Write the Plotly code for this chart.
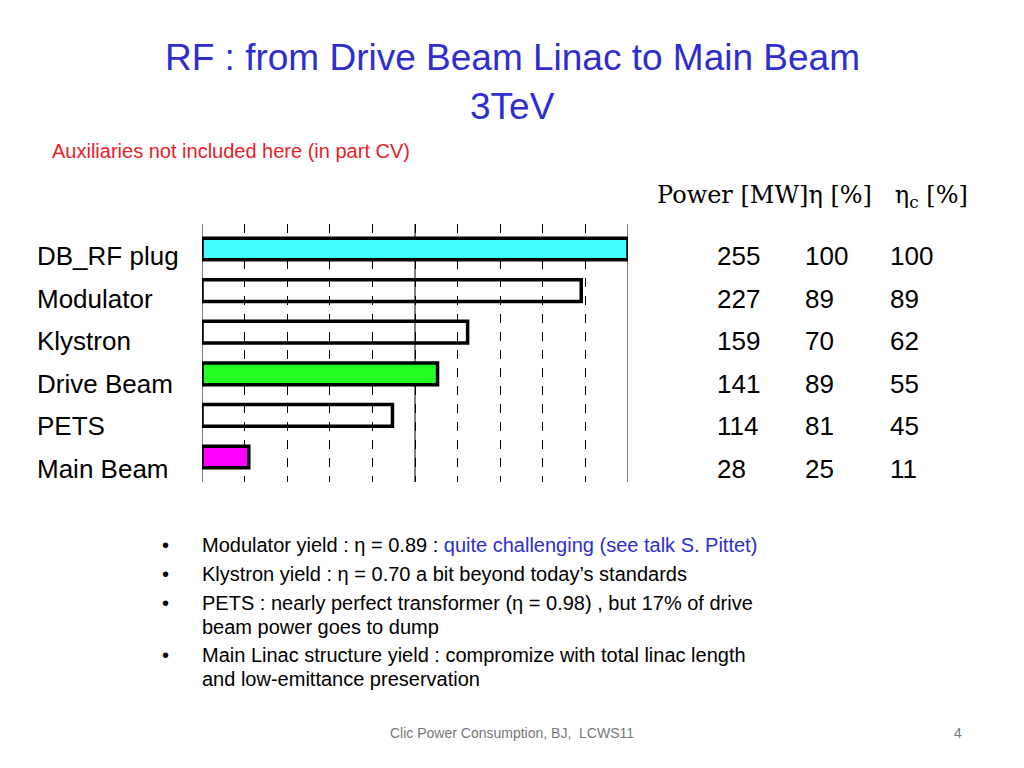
import plotly.graph_objects as go

categories = ["DB_RF plug", "Modulator", "Klystron", "Drive Beam", "PETS", "Main Beam"]
power = [255, 227, 159, 141, 114, 28]
eta = [100, 89, 70, 89, 81, 25]
eta_c = [100, 89, 62, 55, 45, 11]
colors = ["#44FFFF", "rgba(255,255,255,0)", "rgba(255,255,255,0)", "#22FF22", "rgba(255,255,255,0)", "#FF00FF"]

OFF = 8
W, H = 1024 - OFF, 768 - OFF
L, R, T, B = 202, 628, 224, 482
def px(x): return (x - L) / (R - L)
def py(y): return (B - y) / (B - T)

fig = go.Figure(go.Bar(y=categories, x=power, orientation="h", width=0.52,
                       marker=dict(color=colors, line=dict(color="black", width=3.5))))
grid = [25.5 * i for i in range(11)]
fig.update_layout(
    width=W, height=H, plot_bgcolor="white", paper_bgcolor="white",
    margin=dict(l=L - OFF, r=W - (R - OFF), t=T - OFF, b=H - (B - OFF)), showlegend=False,
    xaxis=dict(range=[0, 255], tickvals=grid, showticklabels=False, showgrid=True,
               gridcolor="black", griddash="dash", gridwidth=1, zeroline=False),
    yaxis=dict(showticklabels=False, showgrid=False, range=[5.6, -0.6]),
    font=dict(family="Liberation Sans"),
)
for v in [0, 127.5, 255]:
    fig.add_shape(type="line", x0=v, x1=v, y0=0, y1=1, yref="paper", line=dict(color="#555", width=1.5), layer="below")

ann = []
def A(text, x, y, size, color="black", xanchor="left", family="Liberation Sans"):
    ann.append(dict(text=text, x=px(x), y=py(y), xref="paper", yref="paper", showarrow=False,
                    xanchor=xanchor, yanchor="middle", font=dict(size=size, color=color, family=family)))

for i, c in enumerate(categories):
    y = 256 + i * 42.5
    A(c, 35, y, 26)
    A(str(power[i]), 715, y, 26)
    A(str(eta[i]), 803, y, 26)
    A(str(eta_c[i]), 888, y, 26)
A("Power [MW]η [%]   η<sub>c</sub> [%]", 655, 196, 24, family="DejaVu Serif")

A("RF : from Drive Beam Linac to Main Beam", 512, 57, 37, "#2E2ED0", "center")
A("3TeV", 512, 106, 37, "#2E2ED0", "center")
A("Auxiliaries not included here (in part CV)", 50, 151, 20, "#E8202A")
bul = [(545, "Modulator yield : η = 0.89 : <span style='color:#2E2ED0'>quite challenging (see talk S. Pittet)</span>"),
       (574, "Klystron yield : η = 0.70 a bit beyond today’s standards"),
       (603, "PETS : nearly perfect transformer (η = 0.98) , but 17% of drive"),
       (655, "Main Linac structure yield : compromize with total linac length")]
for y, t in bul:
    A("•", 160, y, 20)
    A(t, 200, y, 20)
A("beam power goes to dump", 200, 627, 20)
A("and low-emittance preservation", 200, 679, 20)
A("Clic Power Consumption, BJ,  LCWS11", 512, 733, 14, "#777", "center")
A("4", 958, 733, 14, "#777", "center")
fig.update_layout(annotations=ann)
fig.write_html("out.html")
